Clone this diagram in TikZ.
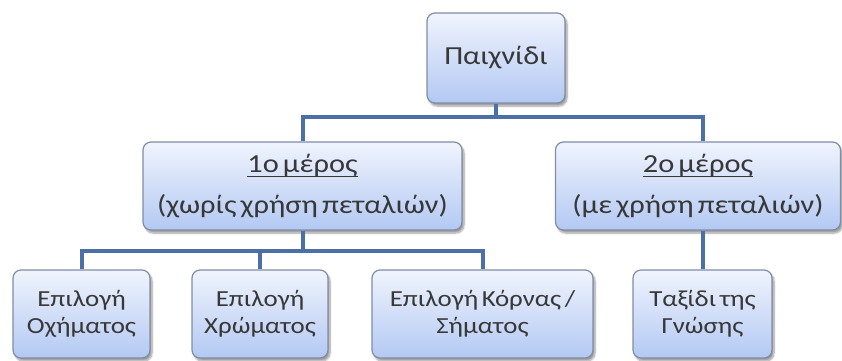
\documentclass[tikz,border=0pt]{standalone}
\usepackage{fontspec}
\setmainfont{Carlito}[FakeStretch=1.17, WordSpace=0.6]
\usetikzlibrary{shadows.blur}
\definecolor{boxedge}{HTML}{7F8DA6}
\definecolor{boxtop}{HTML}{F0F4FD}
\definecolor{boxbot}{HTML}{B3C8F3}
\definecolor{linkblue}{HTML}{4A70A6}
\definecolor{inktext}{HTML}{383838}
% underlined heading: a rule the width of the text, a little below the baseline
\newcommand{\ulhead}[1]{\setbox0=\hbox{#1}\rlap{\rule[-5pt]{\wd0}{1.3pt}}\box0}
\begin{document}
\begin{tikzpicture}[x=1pt,y=-1pt,
  box/.style={draw=boxedge, line width=1.2pt, rounded corners=8pt,
    top color=boxtop, bottom color=boxbot, text=inktext, align=center,
    inner sep=0pt,
    blur shadow={shadow xshift=2pt, shadow yshift=-3pt, shadow blur steps=6, shadow opacity=40}},
  big/.style={box, font=\fontsize{26}{30}\selectfont},
  small/.style={box, font=\fontsize{23}{27}\selectfont, minimum height=88pt},
  conn/.style={draw=linkblue, line width=4pt}]
\useasboundingbox (0,0) rectangle (842,360);

% boxes
\node[big, minimum width=138pt, minimum height=90pt] (root) at (496,58) {Παιχνίδι};
\node[big, minimum width=319pt, minimum height=88pt] (p1) at (302.5,186)
  {\ulhead{1ο μέρος}\\[11pt](χωρίς χρήση πεταλιών)};
\node[big, minimum width=285pt, minimum height=88pt] (p2) at (698,186)
  {\ulhead{2ο μέρος}\\[11pt](με χρήση πεταλιών)};
\node[small, minimum width=137pt] (c1) at (81.5,314) {Επιλογή\\Οχήματος};
\node[small, minimum width=136pt] (c2) at (260,314) {Επιλογή\\Χρώματος};
\node[small, minimum width=221pt] (c3) at (482.5,314) {Επιλογή Κόρνας /\\Σήματος};
\node[small, minimum width=139pt] (c4) at (702.5,314) {Ταξίδι της\\Γνώσης};

% tree links
\draw[conn] (root.south) -- ++(0,13) -| (p1.north);
\draw[conn] (root.south) -- ++(0,13) -| (c4.north |- p2.north);
\draw[conn] (p1.south) -- ++(0,20) -| (c1.north);
\draw[conn] (p1.south) -- ++(0,20) -| (c2.north);
\draw[conn] (p1.south) -- ++(0,20) -| (c3.north);
\draw[conn] (c4.north) -- (c4.north |- p2.south);
\end{tikzpicture}
\end{document}
